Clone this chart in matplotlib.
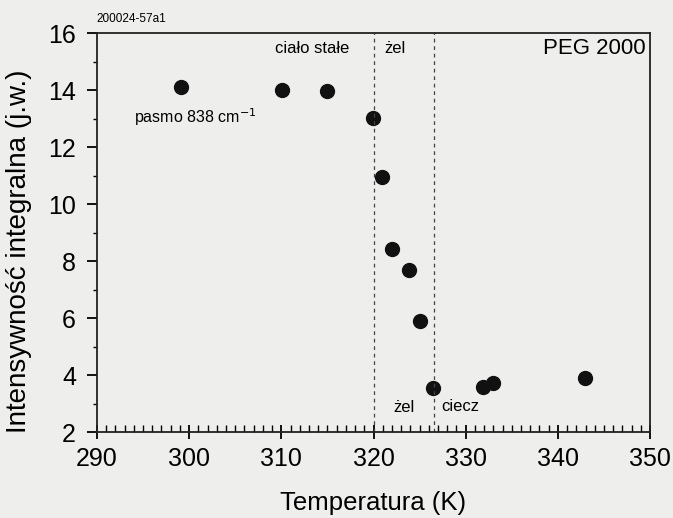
import matplotlib.pyplot as plt
from matplotlib.ticker import MultipleLocator

plt.rcParams['font.family'] = ['Liberation Sans', 'DejaVu Sans']

# dane
temperatura = [299.1, 310.1, 315.0, 319.9, 320.9, 322.0, 323.9, 325.0, 326.4, 331.9, 333.0, 342.9]
intensywnosc = [14.1, 14.0, 13.96, 13.02, 10.95, 8.42, 7.68, 5.9, 3.54, 3.58, 3.72, 3.89]
granice = [320.0, 326.6]

fig = plt.figure(figsize=(6.73, 5.18), dpi=100, facecolor='#eeeeec')
ax = fig.add_axes([0.144, 0.166, 0.822, 0.770])
ax.set_facecolor('#eeeeec')

ax.plot(temperatura, intensywnosc, 'o', color='#111111', markersize=10)
for g in granice:
    ax.axvline(g, color='#444444', lw=0.9, ls=(0, (3, 3)))

ax.set_xlim(290, 350)
ax.set_ylim(2, 16)
ax.xaxis.set_major_locator(MultipleLocator(10))
ax.xaxis.set_minor_locator(MultipleLocator(1))
ax.yaxis.set_major_locator(MultipleLocator(2))
ax.yaxis.set_minor_locator(MultipleLocator(1))
ax.tick_params(axis='x', which='major', direction='inout', length=10, width=1.3, labelsize=18, pad=6)
ax.tick_params(axis='x', which='minor', direction='in', length=5, width=1.0)
ax.tick_params(axis='y', which='major', direction='out', length=7, width=1.3, labelsize=18, pad=8)
ax.tick_params(axis='y', which='minor', direction='out', length=3, width=1.0)
for s in ax.spines.values():
    s.set_linewidth(1.3)
    s.set_color('#222222')

ax.set_xlabel('Temperatura (K)', fontsize=18.5, labelpad=14)
ax.set_ylabel('Intensywność integralna (j.w.)', fontsize=20)
ax.yaxis.set_label_coords(-0.118, 0.454)

ax.text(313.3, 15.45, 'ciało stałe', fontsize=12, ha='center', va='center')
ax.text(322.3, 15.45, 'żel', fontsize=12, ha='center', va='center')
ax.text(349.5, 15.45, 'PEG 2000', fontsize=16, ha='right', va='center')
ax.text(294.0, 13.05, 'pasmo 838 cm$^{-1}$', fontsize=11.5, ha='left', va='center')
ax.text(323.3, 2.85, 'żel', fontsize=12, ha='center', va='center')
ax.text(327.3, 2.9, 'ciecz', fontsize=12, ha='left', va='center')
ax.text(290.0, 16.3, '200024-57a1', fontsize=8.5, ha='left', va='bottom')

fig.savefig('out.png', dpi=100, facecolor=fig.get_facecolor())
